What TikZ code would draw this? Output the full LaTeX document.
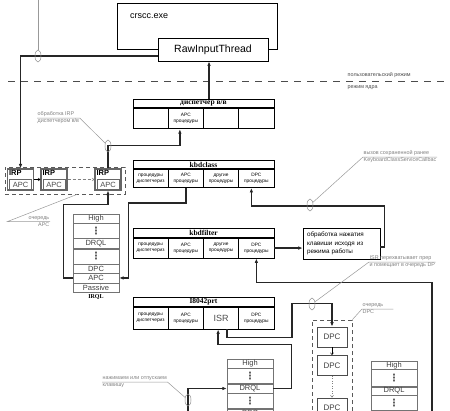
\documentclass[tikz,border=0pt]{standalone}
\usepackage{fontspec}
\setmainfont{Liberation Sans}
\newfontfamily\serifbf{Liberation Serif}
\newfontfamily\dvs{DejaVu Sans}
\usetikzlibrary{arrows.meta,positioning,shapes.geometric}

\begin{document}
\begin{tikzpicture}[x=1pt,y=-1pt,>={Latex[length=4.5pt,width=3.6pt]},
  ln/.style={line width=1.3pt,draw=black!85},
  ttl/.style={draw,line width=0.8pt,minimum width=141pt,minimum height=8.5pt,inner sep=0pt,
              font=\serifbf\bfseries\fontsize{7.5}{8}\selectfont},
  cel/.style={draw,line width=0.8pt,minimum width=35.25pt,inner sep=0pt,align=center,
              font=\fontsize{4.8}{6}\selectfont},
  lvl/.style={draw=black!55,minimum width=46pt,inner sep=0pt,text=black!75,align=center,
              font=\fontsize{7.5}{8}\selectfont},
  dts/.style={lvl,text=black!70,font=\dvs\bfseries\fontsize{10}{10}\selectfont},
  note/.style={text=black!50,inner sep=0.5pt,align=left,font=\fontsize{5.4}{7}\selectfont},
  lead/.style={draw=black!40,line width=0.5pt},
  oval/.style={ellipse,draw=black!45,line width=0.5pt,minimum width=6pt,minimum height=12pt,inner sep=0pt},
  qarr/.style={-{Straight Barb[length=2pt,width=3pt]},line width=0.5pt},
  que/.style={draw=black!65,line width=0.8pt,dash pattern=on 4pt off 3pt}]
  \useasboundingbox (0,0) rectangle (450,410);
  \clip (0,0) rectangle (450,410);

  \node[draw,line width=0.8pt,minimum width=160pt,minimum height=46pt,anchor=north west] (exe) at (117,3) {};
  \node[anchor=north west,inner sep=0pt,font=\fontsize{9}{10}\selectfont] (exen)
    at ([xshift=13pt,yshift=-10pt]exe.north west) {crscc.exe};
  \node[draw,fill=white,line width=0.8pt,minimum width=110pt,minimum height=23pt,
        font=\fontsize{10.5}{12}\selectfont] (rit) at (213,49.5) {RawInputThread};

  \coordinate (s0) at (8,81); \coordinate (s1) at (450,81);
  \draw[draw=black!70,line width=0.6pt,dash pattern=on 7pt off 6pt] (s0) -- (s1);
  \node[note,text=black!70,anchor=west] (um) at (347,75) {пользовательский режим};
  \node[note,text=black!70,anchor=west] (km) at (347,88) {режим ядра};

  \node[ttl] (dsp) at (203.5,103.25) {диспетчер в/в};
  \foreach \i/\t in {1/,2/APC\\процедуры,3/,4/}
    \node[cel,minimum height=20.5pt,anchor=north west] (dsp\i) at ([xshift={(\i-1)*35.25pt}]dsp.south west) {\t};
  \node[ttl] (kc) at (203.5,164.5) {kbdclass};
  \foreach \i/\t in {1/процедуры\\диспетчериз,2/APC\\процедуры,3/другие\\процедуры,4/DPC\\процедуры}
    \node[cel,minimum height=18pt,anchor=north west] (kc\i) at ([xshift={(\i-1)*35.25pt}]kc.south west) {\t};
  \node[ttl] (kf) at (203.5,233) {kbdfilter};
  \foreach \i/\t in {1/процедуры\\диспетчериз,2/APC\\процедуры,3/другие\\процедуры,4/DPC\\процедуры}
    \node[cel,minimum height=20pt,anchor=north west] (kf\i) at ([xshift={(\i-1)*35.25pt}]kf.south west) {\t};
  \node[ttl] (ip) at (203.5,302) {I8042prt};
  \foreach \i/\t in {1/процедуры\\диспетчериз,2/APC\\процедуры,3/{\fontsize{9}{10}\selectfont\color{black!70}ISR},4/DPC\\процедуры}
    \node[cel,minimum height=22pt,anchor=north west] (ip\i) at ([xshift={(\i-1)*35.25pt}]ip.south west) {\t};

  \node[draw,line width=0.6pt,text width=69pt,inner sep=4pt,align=left,
        font=\fontsize{6.3}{8.5}\selectfont] (obr) at (341.5,243.5) {обработка нажатия\\клавиши исходя из\\режима работы};

  \node[que,minimum width=120pt,minimum height=27pt] (qirp) at (65,180.5) {};
  \foreach \i/\x in {1/20.5,2/54,3/108}{
    \node[draw=black!60,fill=white,line width=1.1pt,minimum width=26pt,minimum height=21pt,inner sep=0pt] (irp\i) at (\x,179.5) {};
    \node[anchor=north west,inner sep=0pt,font=\bfseries\fontsize{7.5}{8}\selectfont] (irpt\i)
      at ([xshift=2pt,yshift=-1.5pt]irp\i.north west) {IRP};
    \node[draw=black!60,line width=0.6pt,minimum width=22pt,minimum height=10pt,inner sep=0pt,text=black!70,
          font=\fontsize{7.5}{8}\selectfont] (irpa\i) at ([yshift=6pt]irp\i.south) {APC};
  }
  \draw[qarr] (irp1) -- (irp2);
  \draw[qarr,draw=black!50,dash pattern=on 3pt off 2pt] (irp2) -- (irp3);

  \node[lvl,minimum height=9pt,anchor=north] (q1h) at (96,214) {High};
  \node[dts,minimum height=14.5pt,below=0pt of q1h] (q1v) {⋮};
  \node[lvl,minimum height=10pt,below=0pt of q1v] (q1r) {DRQL};
  \node[dts,minimum height=15pt,below=0pt of q1r] (q1w) {⋮};
  \node[lvl,minimum height=8.5pt,below=0pt of q1w] (q1d) {DPC};
  \node[lvl,minimum height=9.5pt,below=0pt of q1d] (q1a) {APC};
  \node[lvl,minimum height=9pt,below=0pt of q1a] (q1p) {Passive};
  \node[below=1pt of q1p,inner sep=1pt,font=\serifbf\bfseries\fontsize{6}{6}\selectfont] (q1l) {IRQL};

  \node[lvl,minimum height=9pt,anchor=north] (q2h) at (250,359) {High};
  \node[dts,minimum height=15pt,below=0pt of q2h] (q2v) {⋮};
  \node[lvl,minimum height=9pt,below=0pt of q2v] (q2r) {DRQL};
  \node[dts,minimum height=15pt,below=0pt of q2r] (q2w) {⋮};
  \node[lvl,minimum height=9pt,below=0pt of q2w] (q2d) {DPC};

  \node[lvl,minimum height=8pt,anchor=north] (q3h) at (394,361) {High};
  \node[dts,minimum height=17pt,below=0pt of q3h] (q3v) {⋮};
  \node[lvl,minimum height=8pt,below=0pt of q3v] (q3r) {DRQL};
  \node[dts,minimum height=15pt,below=0pt of q3r] (q3w) {⋮};

  \node[que,minimum width=40pt,minimum height=100pt] (qdpc) at (332,370) {};
  \foreach \i/\y in {1/337,2/365.5,3/408}
    \node[draw=black!70,fill=white,line width=0.7pt,minimum width=30pt,minimum height=20pt,inner sep=0pt,
          font=\fontsize{8}{9}\selectfont,text=black!75] (dpc\i) at (332,\y) {DPC};
  \draw[qarr] (dpc1) -- (dpc2);
  \draw[qarr,draw=black!50,dash pattern=on 1pt off 1.5pt] (dpc2) -- (dpc3);

  \coordinate (b1) at (432,412);
  \coordinate (b2) at (188,412);
  \draw[ln,->] ([yshift=-6.5pt]rit.west) -| (irp1.north);
  \draw[ln,->] ([xshift=5.5pt]dsp.north) -- ([xshift=5.5pt]dsp.north |- rit.south);
  \draw[ln,->] (irp3.north) |- ([xshift=-6pt,yshift=-16pt]dsp2.south) -- ([xshift=-6pt]dsp2.south);
  \draw[ln,->] (kc2.south) -- ++(0,15) -| ([xshift=9pt]q1a.east) -- (q1a.east);
  \draw[ln,->] (q1a.west) -- ++(-9,0) |- ([yshift=-14pt]irp3.south) -- (irp3.south);
  \draw[ln,->] (kf4.east) -- (kf4.east -| obr.west);
  \draw[ln,->] ([yshift=-3.5pt]obr.east) -- ++(4,0) |- ([xshift=-5pt,yshift=-18pt]kc4.south) -- ([xshift=-5pt]kc4.south);
  \draw[ln,->] (b1) |- ([yshift=-24pt]kf4.south) -- (kf4.south);
  \draw[ln,->] (q2r.east) -- ++(18,0) |- ([xshift=-3pt,yshift=-15pt]ip3.south) -- ([xshift=-3pt]ip3.south);
  \draw[ln,->] ([xshift=6pt]ip3.south) -- ++(0,8) -- ++(65,0) |- ([yshift=23pt]dpc1.north) -- (dpc1.north);
  \draw[ln,->] (b2) |- (q2r.west);

  \foreach \n/\x/\y in {e0/38/56,e1/108/146,e2/310/205,e3/312/304,e4/188/400}
    \node[oval] (\n) at (\x,\y) {};
  \coordinate (t0) at (38,0);
  \draw[lead] (t0) -- (e0);
  \node[note,anchor=west] (c1) at (37,118) {обработка IRP\\диспетчером в/в};
  \draw[lead] (c1.west) -- (c1.east) -- (e1);
  \node[note,anchor=west] (c2) at (363,157) {вызов сохраненной ранее\\KeyboardClassServiceCallbac};
  \draw[lead] (c2.east) -- (c2.west) -- (e2);
  \node[note,anchor=west] (c3) at (369,262) {ISR перехватывает прер\\и помещает в очередь DP};
  \draw[lead] (c3.east) -- (c3.west) -- (e3);
  \node[note,anchor=west,text width=30pt] (c4) at (362,309) {очередь\\DPC};
  \draw[lead] (c4.east) -- (c4.west) -- (qdpc.north east);
  \node[note,anchor=east,align=right,text width=41pt] (c5) at (50,221.5) {очередь\\APC};
  \draw[lead] (c5.east) -- (c5.west) -- ([xshift=12pt]qirp.south);
  \node[note,anchor=west] (c6) at (102,382) {нажимаем или отпускаем\\клавишу};
  \draw[lead] (c6.west) -- (c6.east) -- (e4);
\end{tikzpicture}
\end{document}
